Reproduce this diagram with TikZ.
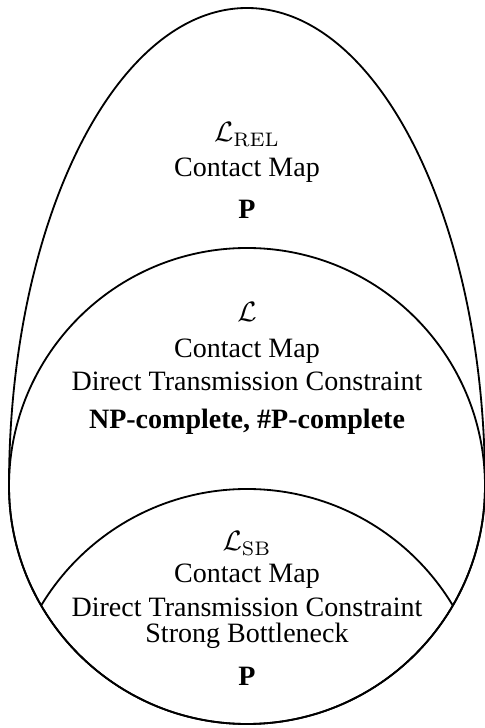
\documentclass[tikz,border=0pt]{standalone}
\usepackage[no-math]{fontspec}
\setmainfont{Liberation Serif}
\usepackage{tikz}
\tikzstyle{txt} = [anchor=base, inner sep=0pt, font=\fontsize{10}{12}\selectfont]
\tikzstyle{bound} = [line width=0.65pt, draw=black]
\begin{document}
\begin{tikzpicture}[x=0.3568pt, y=0.3568pt]
	%区域边界
	\useasboundingbox (0,0) rectangle (485,728);
	\draw [bound] (9,242) arc[start angle=180, end angle=0, x radius=238, y radius=478]
		arc[start angle=0, end angle=-180, radius=238];
	\draw [bound] (247,242) circle[radius=238];
	\begin{scope}
		\clip (247,242) circle[radius=238];
		\draw [bound] (247,-1) circle[radius=240];
	\end{scope}
	%文字
	\node (LREL) [txt] at (247,586) {$\mathcal{L}_{\mathrm{REL}}$};
	\node (CMA) [txt] at (247,551) {Contact Map};
	\node (PA) [txt] at (247,509) {\textbf{P}};
	\node (LL) [txt] at (247,406) {$\mathcal{L}$};
	\node (CMB) [txt] at (247,370) {Contact Map};
	\node (DTB) [txt] at (247,337) {Direct Transmission Constraint};
	\node (NP) [txt] at (247,300) {\textbf{NP-complete, \#P-complete}};
	\node (LSB) [txt] at (247,177) {$\mathcal{L}_{\mathrm{SB}}$};
	\node (CMC) [txt] at (247,146) {Contact Map};
	\node (DTC) [txt] at (247,112) {Direct Transmission Constraint};
	\node (SB) [txt] at (247,86) {Strong Bottleneck};
	\node (PC) [txt] at (247,42) {\textbf{P}};
\end{tikzpicture}
\end{document}
